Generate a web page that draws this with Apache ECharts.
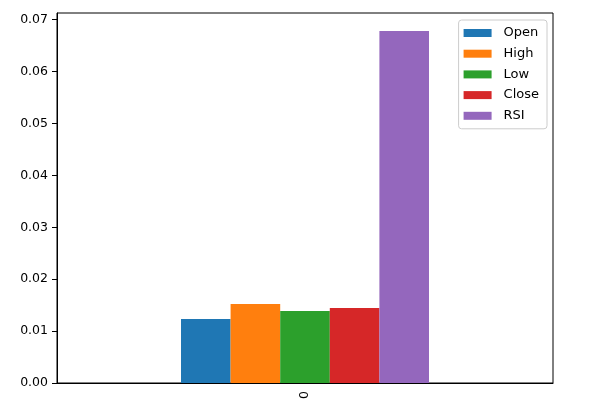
<!DOCTYPE html>
<html><head><meta charset="utf-8">
<script src="https://cdn.jsdelivr.net/npm/echarts@6/dist/echarts.min.js"></script>
<style>html,body{margin:0;padding:0;background:#fff}#c{width:609px;height:410px}</style>
</head><body><div id="c"></div>
<script>
const categories = ['0'];
const seriesNames = ['Open', 'High', 'Low', 'Close', 'RSI'];
const seriesValues = [[0.01233], [0.01522], [0.01387], [0.01445], [0.0678]];
const yTicks = [0, 0.01, 0.02, 0.03, 0.04, 0.05, 0.06, 0.07];
const colors = ['#1f77b4', '#ff7f0e', '#2ca02c', '#d62728', '#9467bd'];

const chart = echarts.init(document.getElementById('c'), null, {renderer: 'canvas'});
const font = 'DejaVu Sans';
chart.setOption({
  animation: false,
  color: colors,
  textStyle: {fontFamily: font},
  grid: {left: 57, right: 56, top: 13, bottom: 27, show: true, borderColor: '#000', borderWidth: 1, backgroundColor: 'transparent'},
  legend: {
    orient: 'vertical', right: 62, top: 20,
    itemWidth: 28, itemHeight: 8, itemGap: 6.7,
    padding: [6, 8, 6, 5],
    borderColor: '#cccccc', borderWidth: 1, borderRadius: 3,
    backgroundColor: 'rgba(255,255,255,0.8)',
    icon: 'rect',
    textStyle: {fontFamily: font, fontSize: 13, color: '#000', lineHeight: 14, padding: [0, 0, 0, 7]},
    data: seriesNames
  },
  xAxis: {
    type: 'category', data: categories,
    axisLine: {lineStyle: {color: '#000'}},
    axisTick: {alignWithLabel: true, length: 5, lineStyle: {color: '#000'}},
    axisLabel: {rotate: 90, color: '#000', fontSize: 12.5, fontFamily: font, margin: 8}
  },
  yAxis: {
    type: 'value', min: 0, max: 0.07129,
    splitLine: {show: false},
    axisLine: {show: true, lineStyle: {color: '#000'}},
    axisTick: {show: true, length: 5, lineStyle: {color: '#000'}, customValues: yTicks},
    axisLabel: {color: '#000', fontSize: 12.5, fontFamily: font, margin: 9, customValues: yTicks, formatter: v => v.toFixed(2)}
  },
  series: seriesNames.map((n, i) => ({
    name: n, type: 'bar', data: seriesValues[i],
    barGap: '0%', barCategoryGap: '50%'
  }))
});
</script></body></html>
